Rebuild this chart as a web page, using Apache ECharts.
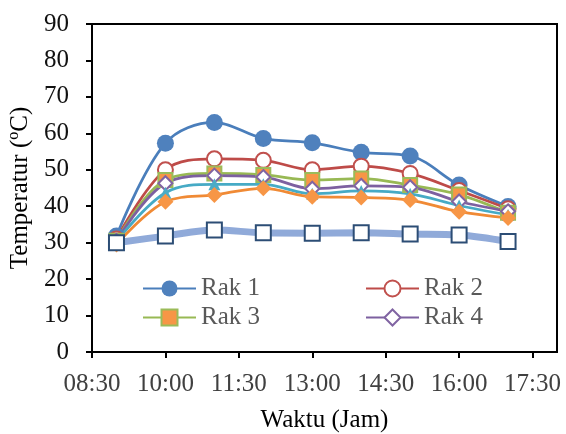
<!DOCTYPE html>
<html>
<head>
<meta charset="utf-8">
<script src="https://cdn.jsdelivr.net/npm/echarts@6/dist/echarts.min.js"></script>
<style>
  html, body { margin: 0; padding: 0; background: #fff; }
  #chart { width: 566px; height: 434px; }
</style>
</head>
<body>
<div id="chart"></div>
<script>
// Half-hour slots along the time axis (runs to 18:00); labels shown every 1.5 h
const slots = ['08:30','09:00','09:30','10:00','10:30','11:00','11:30','12:00','12:30',
               '13:00','13:30','14:00','14:30','15:00','15:30','16:00','16:30','17:00','17:30','18:00'];

// Measurement times (hourly)
const times = ['09:00','10:00','11:00','12:00','13:00','14:00','15:00','16:00','17:00'];

// Temperatures (°C) per drying rack
const rak1 = [31.8, 57.3, 63.0, 58.6, 57.4, 54.8, 53.8, 45.8, 39.9];
const rak2 = [31.0, 50.0, 53.0, 52.6, 50.0, 51.0, 49.0, 44.3, 39.3];
const rak3 = [30.5, 47.2, 49.0, 48.6, 47.2, 47.6, 45.8, 43.2, 38.2];
const rak4 = [30.5, 46.3, 48.4, 48.0, 44.8, 45.6, 45.2, 41.3, 38.6];
const rak5 = [30.3, 43.7, 46.0, 46.0, 43.4, 44.2, 43.4, 40.2, 37.6];
const rak6 = [29.5, 41.2, 43.1, 44.9, 42.6, 42.4, 41.7, 38.5, 36.8];
const lingkungan = [30.0, 31.8, 33.5, 32.7, 32.6, 32.7, 32.4, 32.1, 30.3];

const pairs = vals => times.map((t, i) => [t, vals[i]]);
const FONT = '"Liberation Serif", "Times New Roman", serif';

function lineSeries(name, vals, lineColor, lineWidth, symbol, size, fill, border, borderWidth) {
  return {
    name: name,
    type: 'line',
    data: pairs(vals),
    smooth: 0.35,
    symbol: symbol,
    symbolSize: size,
    showAllSymbol: true,
    lineStyle: { color: lineColor, width: lineWidth },
    itemStyle: { color: fill, borderColor: border, borderWidth: borderWidth },
    emphasis: { disabled: true }
  };
}

const legendBase = {
  orient: 'vertical', top: 276, itemGap: 4, padding: 0,
  itemWidth: 53, itemHeight: 20,
  textStyle: { fontFamily: FONT, fontSize: 25, color: '#595959' }
};

const chart = echarts.init(document.getElementById('chart'), null, { renderer: 'canvas' });
chart.setOption({
  animation: false,
  backgroundColor: '#fff',
  textStyle: { fontFamily: FONT },
  grid: {
    left: 92, right: 9, top: 24, bottom: 82,
    outerBoundsMode: 'none',
    show: true, borderColor: '#000', borderWidth: 2, backgroundColor: 'transparent'
  },
  legend: [
    Object.assign({ left: 142, data: ['Rak 1', 'Rak 3'] }, legendBase),
    Object.assign({ left: 365, data: ['Rak 2', 'Rak 4'] }, legendBase)
  ],
  xAxis: {
    type: 'category',
    data: slots,
    boundaryGap: false,
    name: 'Waktu (Jam)',
    nameLocation: 'middle',
    nameGap: 56,
    nameTextStyle: { fontFamily: FONT, fontSize: 25, color: '#000' },
    axisLine: { lineStyle: { color: '#000', width: 2 } },
    axisTick: { interval: 2, length: 6, lineStyle: { color: '#000', width: 2 } },
    axisLabel: { interval: 2, margin: 20, fontFamily: FONT, fontSize: 25, color: '#404040' },
    splitLine: { show: false }
  },
  yAxis: {
    type: 'value',
    min: 0, max: 90, interval: 10,
    name: '{a|Temperatur (}{s|o}{a|C)}',
    nameLocation: 'middle',
    nameGap: 58,
    nameTextStyle: {
      rich: {
        a: { fontFamily: FONT, fontSize: 25, color: '#000' },
        s: { fontFamily: FONT, fontSize: 16, color: '#000', padding: [0, 0, 12, 0] }
      }
    },
    axisLine: { show: true, lineStyle: { color: '#000', width: 2 } },
    axisTick: { show: true, length: 6, lineStyle: { color: '#000', width: 2 } },
    axisLabel: { margin: 23, fontFamily: FONT, fontSize: 25, color: '#111' },
    splitLine: { show: false }
  },
  series: [
    lineSeries('Rak 1', rak1, '#4A7EBB', 2.75, 'circle', 17, '#4F81BD', '#4F81BD', 0),
    lineSeries('Rak 2', rak2, '#BE4B48', 2.75, 'circle', 15, '#fff', '#C0504D', 2),
    lineSeries('Rak 3', rak3, '#98B954', 2.75, 'rect', 14, '#F79646', '#9BBB59', 2),
    lineSeries('Rak 4', rak4, '#7D60A0', 2.75, 'diamond', 14, '#fff', '#8064A2', 2),
    lineSeries('Rak 5', rak5, '#46AAC5', 2.75, 'triangle', 12, '#4BACC6', '#4BACC6', 0),
    lineSeries('Rak 6', rak6, '#F08A35', 2.75, 'diamond', 16, '#F79646', '#F79646', 0),
    lineSeries('Lingkungan', lingkungan, 'rgba(125,155,210,0.85)', 7, 'rect', 15, '#fff', '#2C4D75', 2)
  ]
});
</script>
</body>
</html>
